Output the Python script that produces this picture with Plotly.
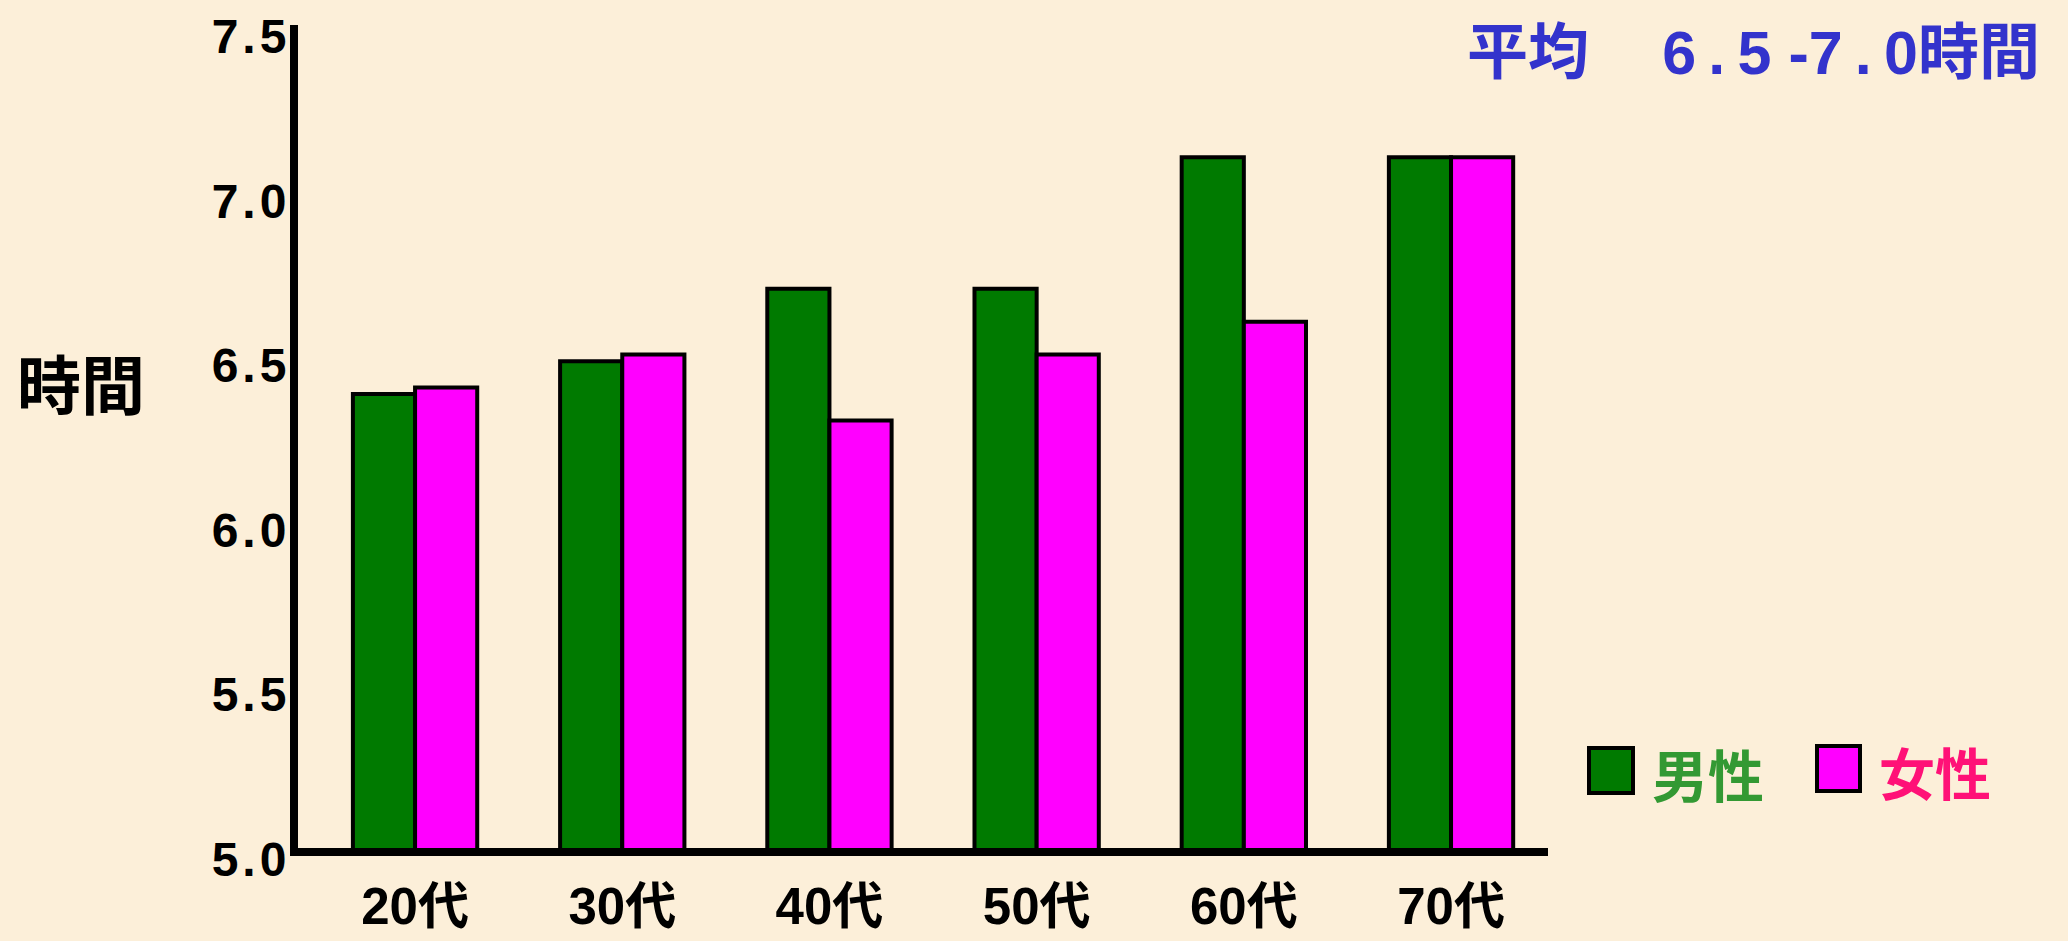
import plotly.graph_objects as go

# Average sleep hours by age group
age_groups = ["20代", "30代", "40代", "50代", "60代", "70代"]
male_hours = [6.38, 6.48, 6.7, 6.7, 7.1, 7.1]
female_hours = [6.4, 6.5, 6.3, 6.5, 6.6, 7.1]
y_ticks = [5.0, 5.5, 6.0, 6.5, 7.0, 7.5]

HS = "\u200a"  # hair space for the airy numeral look
TS = "\u2009"  # thin space
y_tick_text = [f"{v:.1f}".replace(".", f"{HS}.{HS}") for v in y_ticks]

W, H = 2068, 941
L, R, T, B = 298, 520, 25, 93
PW, PH = W - L - R, H - T - B

BG = "#FCEFD9"
GREEN = "#007A00"
MAGENTA = "#FF00FF"
FONT = "Liberation Sans, Noto Sans CJK JP, sans-serif"
CJK = "Noto Sans CJK JP, sans-serif"


def px(xp):
    return (xp - L) / PW


def py(yp):
    return 1 - (yp - T) / PH


fig = go.Figure()
fig.add_trace(go.Bar(
    x=age_groups, y=male_hours, name="男性",
    marker=dict(color=GREEN, line=dict(color="black", width=4)),
))
fig.add_trace(go.Bar(
    x=age_groups, y=female_hours, name="女性",
    marker=dict(color=MAGENTA, line=dict(color="black", width=4)),
))

# Legend drawn as large swatches with coloured labels
legend_items = [
    ("男性", GREEN, "#339933", (1589, 748, 1633, 793), 1708),
    ("女性", MAGENTA, "#FF1177", (1817, 746, 1860, 791), 1935),
]
shapes = []
annotations = []
for label, fill, tcolor, (x0, y0, x1, y1), tx in legend_items:
    shapes.append(dict(
        type="rect", xref="paper", yref="paper",
        x0=px(x0), x1=px(x1), y0=py(y1), y1=py(y0),
        fillcolor=fill, line=dict(color="black", width=4),
    ))
    annotations.append(dict(
        text=label, xref="paper", yref="paper",
        x=px(tx), y=py((y0 + y1) / 2 + 2), xanchor="center", yanchor="middle",
        showarrow=False, font=dict(family=CJK, size=56, color=tcolor, weight="bold"),
    ))

annotations.append(dict(
    text=f"平均　{TS}6{TS}.{TS}5 -7{TS}.{TS}0時間", xref="paper", yref="paper",
    x=px(2042), y=py(53), xanchor="right", yanchor="middle",
    showarrow=False, font=dict(family=FONT, size=61, color="#3333CC", weight="bold"),
))
annotations.append(dict(
    text="時間", xref="paper", yref="paper",
    x=px(81), y=py(381), xanchor="center", yanchor="middle",
    showarrow=False, font=dict(family=CJK, size=64, color="black", weight="bold"),
))

fig.update_layout(
    width=W, height=H,
    margin=dict(l=L, r=R, t=T, b=B),
    paper_bgcolor=BG, plot_bgcolor=BG,
    barmode="group", bargap=0.4, bargroupgap=0,
    showlegend=False,
    shapes=shapes, annotations=annotations,
    xaxis=dict(
        range=[-0.565, 5.468], showline=True, linewidth=8, linecolor="black",
        ticks="", showgrid=False, zeroline=False, automargin=False,
        tickfont=dict(family=FONT, size=51, color="black", weight="bold"),
        ticklabelstandoff=7,
    ),
    yaxis=dict(
        range=[5, 7.502], showline=True, linewidth=8, linecolor="black",
        ticks="", showgrid=False, zeroline=False, automargin=False,
        tickvals=y_ticks, ticktext=y_tick_text,
        tickfont=dict(family=FONT, size=48, color="black", weight="bold"),
        ticklabelstandoff=-6, ticklabelshift=11,
    ),
)

fig.write_html("out.html")
